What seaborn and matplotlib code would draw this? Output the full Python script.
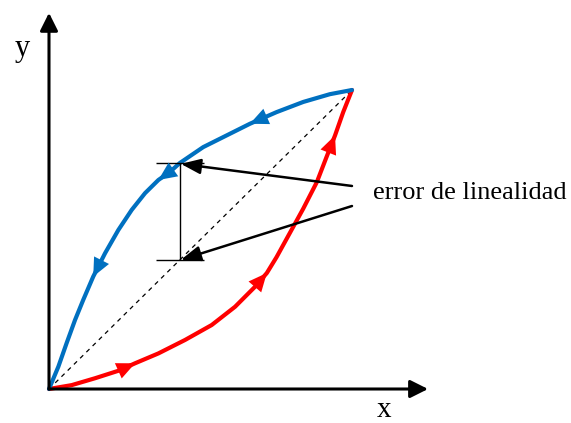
import matplotlib
matplotlib.use("Agg")
import matplotlib.pyplot as plt
import seaborn as sns
import pandas as pd

# Upper (returning) branch, listed from the origin to the end point
blue_x = [0.000, 0.031, 0.058, 0.086, 0.113, 0.146, 0.185, 0.229, 0.273, 0.317,
          0.361, 0.399, 0.432, 0.509, 0.586, 0.663, 0.751, 0.839, 0.927, 1.000]
blue_y = [0.000, 0.075, 0.153, 0.231, 0.298, 0.376, 0.454, 0.532, 0.599, 0.655,
          0.699, 0.726, 0.756, 0.809, 0.848, 0.887, 0.926, 0.960, 0.986, 1.000]
# Lower (rising) branch
red_x = [0.000, 0.075, 0.152, 0.229, 0.284, 0.361, 0.449, 0.537, 0.614, 0.680,
         0.719, 0.751, 0.795, 0.839, 0.884, 0.916, 0.944, 0.971, 1.000]
red_y = [0.000, 0.013, 0.036, 0.061, 0.086, 0.119, 0.164, 0.214, 0.275, 0.342,
         0.388, 0.441, 0.522, 0.603, 0.692, 0.776, 0.848, 0.926, 1.000]
# Indices of the points where direction arrows sit
blue_arrow_idx = [5, 10, 15]
red_arrow_idx = [4, 10, 16]

# Ideal straight line
line_x = [0.0, 1.0]
line_y = [0.0, 1.0]

# Linearity error marked at one x position
err_x = 0.432
err_low = 0.432
err_high = 0.756
cap_half = 0.079

label_text = "error de linealidad"
x_label = "x"
y_label = "y"

BLUE = "#0070C0"
RED = "#FF0000"

sns.set_theme(style="white")
plt.rcParams["font.family"] = ["Liberation Serif", "DejaVu Serif"]
plt.rcParams["text.color"] = "black"

fig = plt.figure(figsize=(5.71, 4.23), dpi=100)
ax = fig.add_axes([0, 0, 1, 1])
ax.set_xlim(-0.1617, 1.7228)
ax.set_ylim(-0.1137, 1.301)
ax.axis("off")

# Coordinate axes with arrowheads
axis_head = dict(arrowstyle="-|>,head_length=0.4,head_width=0.2", lw=2.2,
                 color="black", mutation_scale=27, shrinkA=0, shrinkB=0)
ax.annotate("", xy=(1.251, 0), xytext=(0, 0), arrowprops=axis_head)
ax.annotate("", xy=(0, 1.258), xytext=(0, 0), arrowprops=axis_head)
ax.text(1.106, -0.093, x_label, fontsize=21, ha="center", va="baseline")
ax.text(-0.089, 1.114, y_label, fontsize=22, ha="center", va="baseline")

# Ideal linear response
sns.lineplot(x=line_x, y=line_y, ax=ax, color="black", lw=0.9,
             linestyle=(0, (3.5, 3.5)), sort=False)

# Hysteresis branches
blue_df = pd.DataFrame({"x": blue_x, "y": blue_y})
red_df = pd.DataFrame({"x": red_x, "y": red_y})
sns.lineplot(data=red_df, x="x", y="y", ax=ax, color=RED, lw=3, sort=False)
sns.lineplot(data=blue_df, x="x", y="y", ax=ax, color=BLUE, lw=3, sort=False)

head = "-|>,head_length=0.55,head_width=0.25"
for i in blue_arrow_idx:
    ax.annotate("", xy=(blue_x[i], blue_y[i]), xytext=(blue_x[i + 1], blue_y[i + 1]),
                arrowprops=dict(arrowstyle=head, color=BLUE, lw=0.01,
                                mutation_scale=24, shrinkA=0, shrinkB=0))
for i in red_arrow_idx:
    ax.annotate("", xy=(red_x[i], red_y[i]), xytext=(red_x[i - 1], red_y[i - 1]),
                arrowprops=dict(arrowstyle=head, color=RED, lw=0.01,
                                mutation_scale=24, shrinkA=0, shrinkB=0))

# Error bracket
ax.vlines(err_x, err_low, err_high, color="black", lw=1)
ax.hlines([err_low, err_high], err_x - cap_half, err_x + cap_half, color="black", lw=1)

# Label and pointers
ax.text(1.069, 0.635, label_text, fontsize=19, ha="left", va="baseline")
ptr = dict(arrowstyle="-|>,head_length=0.6,head_width=0.23", lw=1.8, color="black",
           mutation_scale=20, shrinkA=0, shrinkB=0)
ax.annotate("", xy=(err_x + 0.003, err_high - 0.003), xytext=(1.0, 0.679), arrowprops=ptr)
ax.annotate("", xy=(err_x + 0.003, err_low), xytext=(1.0, 0.612), arrowprops=ptr)

fig.savefig("out.png", dpi=100)
